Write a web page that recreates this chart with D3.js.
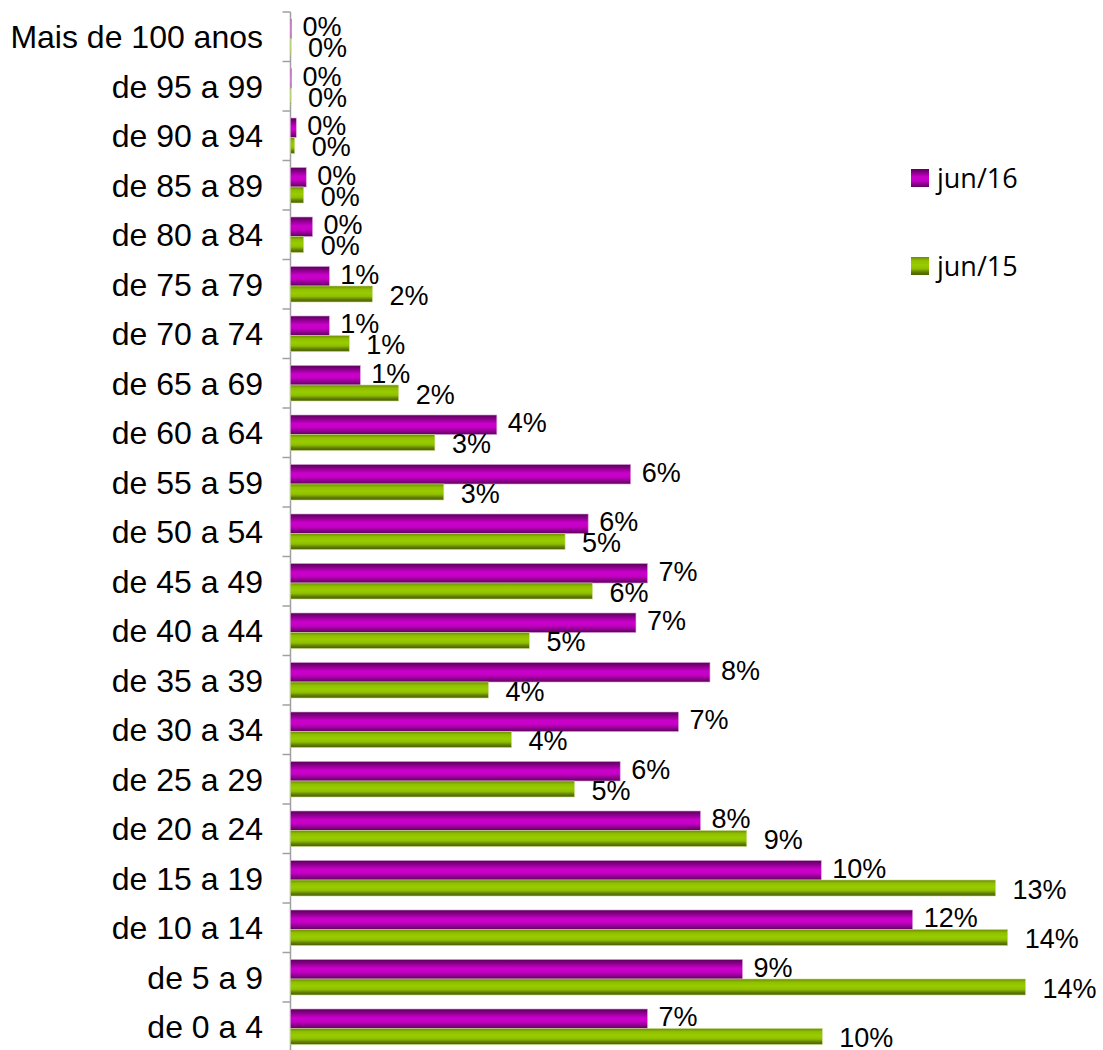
<!DOCTYPE html>
<html>
<head>
<meta charset="utf-8">
<script src="https://cdn.jsdelivr.net/npm/d3@7"></script>
<style>
  body { margin: 0; background: #fff; }
  .cat { font-family: "Liberation Sans", Arial, sans-serif; font-size: 32px; fill: #000; }
  .val { font-family: "Liberation Sans", Arial, sans-serif; font-size: 27px; fill: #000; }
  .leg { font-family: "Open Sans", Lato, sans-serif; font-size: 27px; fill: #000; }
</style>
</head>
<body>
<script>
//-----------------------------------------data-------------------------------------------

var faixas = ["Mais de 100 anos", "de 95 a 99", "de 90 a 94", "de 85 a 89", "de 80 a 84",
              "de 75 a 79", "de 70 a 74", "de 65 a 69", "de 60 a 64", "de 55 a 59",
              "de 50 a 54", "de 45 a 49", "de 40 a 44", "de 35 a 39", "de 30 a 34",
              "de 25 a 29", "de 20 a 24", "de 15 a 19", "de 10 a 14", "de 5 a 9", "de 0 a 4"];

var jun16 = [0.02, 0.02, 0.11, 0.30, 0.42, 0.74, 0.74, 1.33, 3.93, 6.48, 5.67,
             6.80, 6.58, 7.99, 7.39, 6.28, 7.81, 10.11, 11.85, 8.61, 6.80];

var jun15 = [0.01, 0.01, 0.08, 0.25, 0.25, 1.56, 1.12, 2.06, 2.75, 2.92, 5.23,
             5.75, 4.55, 3.77, 4.21, 5.41, 8.69, 13.43, 13.66, 14.00, 10.13];

var series = [
  { nome: "jun/16", valores: jun16, grad: "gradRoxo" },
  { nome: "jun/15", valores: jun15, grad: "gradVerde" }
];

//-----------------------------------------SVG-------------------------------------------

var svg = d3.select("body")
  .append("svg")
  .attr("width", 1103)
  .attr("height", 1050);

var defs = svg.append("defs");

function gradiente(id, stops) {
  var g = defs.append("linearGradient")
    .attr("id", id)
    .attr("x1", 0).attr("y1", 0).attr("x2", 0).attr("y2", 1);
  stops.forEach(function(s) {
    g.append("stop").attr("offset", s[0]).attr("stop-color", s[1]);
  });
}

gradiente("gradRoxo", [[0, "#5a005a"], [0.2, "#8a008a"], [0.45, "#cc00cc"], [0.65, "#c400c4"], [0.85, "#8a008a"], [1, "#5e005e"]]);
gradiente("gradVerde", [[0, "#6b8a00"], [0.2, "#8fbf00"], [0.45, "#99cc00"], [0.65, "#8fbf00"], [0.85, "#5f7a00"], [1, "#4a6000"]]);

//-----------------------------------------escalas-------------------------------------------

var x = d3.scaleLinear()
  .domain([0, 15])
  .range([290.5, 290.5 + 52.5 * 15]);

var y = d3.scaleBand()
  .domain(faixas)
  .range([12, 12 + 49.5 * faixas.length]);

var fmt = function(v) { return d3.format(".0f")(v) + "%"; };

//-----------------------------------------eixo-------------------------------------------

var eixo = svg.append("g")
  .attr("transform", "translate(290.5,0)")
  .call(d3.axisLeft(y).tickSize(0).tickFormat(""));

eixo.select(".domain").remove();
eixo.append("line")
  .attr("x1", 0).attr("x2", 0)
  .attr("y1", y.range()[0]).attr("y2", y.range()[1])
  .attr("stroke", "#a0a0a0").attr("stroke-width", 1.5);

eixo.selectAll(".fronteira")
  .data(d3.range(faixas.length + 1))
  .enter().append("line")
  .attr("x1", -8).attr("x2", 0)
  .attr("y1", function(i) { return 12 + y.step() * i; })
  .attr("y2", function(i) { return 12 + y.step() * i; })
  .attr("stroke", "#a0a0a0").attr("stroke-width", 1.5);

svg.selectAll(".cat")
  .data(faixas)
  .enter().append("text")
  .attr("class", "cat")
  .attr("x", 263)
  .attr("y", function(d) { return y(d) + y.bandwidth() / 2; })
  .attr("dy", "0.36em")
  .attr("text-anchor", "end")
  .text(function(d) { return d; });

//-----------------------------------------barras-------------------------------------------

var alturas = [19.5, 16];
var desloc = [7, 26.5];

series.forEach(function(s, k) {
  var g = svg.append("g");

  g.selectAll("rect")
    .data(s.valores)
    .enter().append("rect")
    .attr("x", x(0))
    .attr("y", function(d, i) { return y(faixas[i]) + desloc[k]; })
    .attr("width", function(d) { return x(d) - x(0); })
    .attr("height", alturas[k])
    .attr("fill", "url(#" + s.grad + ")")
    .attr("stroke", k == 0 ? "#d9a0d9" : "#c8dc90")
    .attr("stroke-width", 0.6);

  g.selectAll("text")
    .data(s.valores)
    .enter().append("text")
    .attr("class", "val")
    .attr("x", function(d) { return x(d) + (k == 0 ? 11 : 17); })
    .attr("y", function(d, i) { return y(faixas[i]) + desloc[k] + alturas[k] / 2 + (k == 0 ? -2 : 1); })
    .attr("dy", "0.36em")
    .text(function(d) { return fmt(d); });
});

//-----------------------------------------legenda-------------------------------------------

var leg = svg.selectAll(".legenda")
  .data(series)
  .enter().append("g")
  .attr("transform", function(d, i) { return "translate(911," + (169 + i * 88) + ")"; });

leg.append("rect")
  .attr("width", 18).attr("height", 18)
  .attr("fill", function(d) { return "url(#" + d.grad + ")"; });

leg.append("text")
  .attr("class", "leg")
  .attr("x", 26)
  .attr("y", 9)
  .attr("dy", "0.36em")
  .text(function(d) { return d.nome; });
</script>
</body>
</html>
